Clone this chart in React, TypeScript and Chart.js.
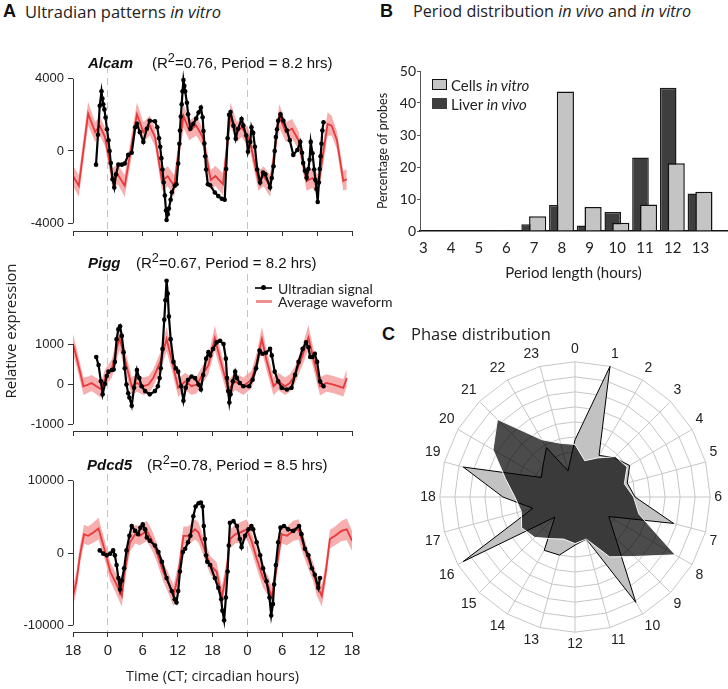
import React, { useEffect, useRef } from 'react';
import { Chart, registerables } from 'chart.js';
Chart.register(...registerables);

const ARIAL = '"Liberation Sans", Arial, sans-serif';
const SANS = 'Lato, "Open Sans", sans-serif';
const SEGOE = '"Open Sans", Lato, sans-serif';

// ---------- Panel A: ultradian patterns (x = hours after CT18) ----------
const timeTickValues = [0, 6, 12, 18, 24, 30, 36, 42, 48];
const timeTickLabels = ['18', '0', '6', '12', '18', '0', '6', '12', '18'];

// [hour, mean, band half-width]
const alcamAverage = [
  [0, -1390, 550], [1.0, -1930, 600], [2.6, 2070, 650], [3.8, 1045, 550], [4.6, 1400, 550], [5.5, 770, 500],
  [6.8, -1500, 550], [7.7, -1300, 550], [8.9, -1930, 600], [11.0, 2035, 650], [12.1, 1045, 550], [13.2, 1405, 550],
  [14.1, 775, 500], [15.3, -1660, 550], [16.3, -1400, 550], [17.4, -1930, 600], [19.0, 1945, 650], [20.0, 1135, 550],
  [21.2, 1405, 550], [22.3, 775, 500], [23.7, -1600, 550], [24.5, -1390, 550], [25.8, -1840, 600], [27.1, 2035, 650],
  [28.2, 1045, 550], [29.0, 1315, 550], [30.4, 595, 500], [31.9, -1660, 550], [32.8, -1400, 550], [33.9, -1930, 600],
  [35.5, 1945, 650], [36.6, 1045, 550], [37.7, 1225, 550], [38.8, 595, 500], [40.2, -1660, 550], [41.2, -1500, 550],
  [42.2, -1930, 600], [43.8, 1495, 650], [44.5, 1405, 550], [45.4, 595, 500], [46.5, -1660, 550], [47.1, -1570, 550],
];
const alcamSignal = [
  [3.96, -760], [4.3, 900], [4.6, 2500], [4.9, 3300], [5.05, 2900], [5.2, 2580], [5.4, 2300], [5.6, 1850], [5.85, 1200],
  [6.1, 590], [6.3, 0], [6.5, -670], [6.8, -1570], [7.1, -2020], [7.4, -1300], [7.8, -760], [8.4, -760], [8.9, -700],
  [9.5, -220], [10.1, -100], [10.7, 1315], [11.0, 1500], [11.5, 1040], [12.1, 500], [12.7, 1225], [13.2, 1675],
  [14.1, 1640], [14.5, 1315], [14.8, 700], [15.0, 230], [15.2, -400], [15.4, -1030], [15.6, -1750], [15.8, -2470],
  [16.0, -3300], [16.1, -3820], [16.3, -3500], [16.5, -3190], [16.8, -2700], [17.0, -2290], [17.5, -1930], [17.8, -1840],
  [18.1, -700], [18.3, 400], [18.4, 1135], [18.55, 1900], [18.7, 2580], [18.85, 3300], [19.0, 3930], [19.15, 3600],
  [19.3, 3300], [19.6, 2670], [19.8, 2035], [20.2, 1225], [20.7, 1500], [21.2, 1800], [21.6, 2130], [22.0, 2400],
  [22.3, 1860], [22.45, 1100], [22.6, 410], [22.75, -300], [22.9, -1030], [23.2, -1840], [23.6, -1900], [24.4, -2300],
  [25.0, -2500], [25.6, -2650], [26.1, -2700], [26.35, -1000], [26.6, 700], [26.85, 2000], [27.1, 2150], [27.6, 1400],
  [28.0, 680], [28.4, 1225], [29.0, 1765], [29.3, 1400], [29.8, 860], [30.1, -40], [30.5, 500], [30.7, 1315],
  [31.0, 1000], [31.3, 230], [31.7, -1030], [32.2, -1750], [32.7, -1200], [33.1, -1300], [33.9, -2020], [34.2, -1500],
  [34.5, -850], [34.7, 0], [34.9, 770], [35.1, 1200], [35.3, 1675], [35.7, 2035], [36.2, 1675], [36.8, 1135],
  [37.3, 590], [37.9, -220], [38.6, 50], [39.1, 500], [39.4, -100], [39.6, -670], [39.9, -1100], [40.2, -1480],
  [40.5, -1000], [40.7, -490], [40.9, 500], [41.2, -130], [41.5, -1030], [41.7, -1600], [41.9, -2110], [42.1, -2830],
  [42.3, -1750], [42.45, -1000], [42.6, -300], [42.75, 400], [42.9, 1135], [43.1, 1585],
];
const alcamTicks = [-4000, 0, 4000];

const piggAverage = [
  [0, 1005, 245], [0.6, 680, 230], [1.2, 314, 217], [1.8, -51, 217], [2.6, -10, 203], [3.2, 30, 203], [4.0, -51, 203],
  [4.9, -132, 217], [5.5, 152, 217], [6.7, 396, 230], [8.0, 1167, 311], [8.9, 639, 257], [10.1, -51, 230], [11.0, 30, 217],
  [12.1, -51, 217], [13.0, -10, 217], [13.8, 152, 217], [15.0, 558, 230], [16.1, 1127, 311], [17.0, 599, 257],
  [18.1, -92, 230], [19.3, 71, 217], [20.4, -51, 217], [21.3, -10, 217], [22.1, 193, 217], [23.3, 477, 230],
  [24.4, 1154, 311], [25.3, 639, 257], [26.7, -132, 230], [27.9, 71, 217], [29.3, -51, 217], [30.7, 111, 217],
  [31.6, 558, 230], [32.5, 1127, 311], [33.3, 599, 257], [34.5, -51, 230], [35.3, 71, 217], [36.5, -51, 217],
  [37.3, 30, 217], [38.2, 233, 217], [39.3, 639, 230], [40.5, 1167, 311], [41.3, 680, 257], [42.5, -51, 230],
  [43.6, 30, 217], [44.8, -10, 217], [46.5, -92, 217], [47.1, 152, 217],
];
const piggSignal = [
  [4.0, 680], [4.4, 477], [4.8, 71], [5.1, -254], [5.5, 3], [5.8, 206], [6.1, 314], [6.7, 355], [7.0, 369], [7.2, 558],
  [7.5, 1127], [7.8, 1370], [8.1, 1451], [8.4, 1208], [8.7, 802], [8.9, 396], [9.2, -10], [9.5, -227], [9.7, -335],
  [10.1, -538], [10.5, -92], [11.0, 355], [11.4, 152], [11.8, -51], [12.4, -173], [13.2, -254], [14.1, -173], [14.6, -51],
  [14.9, 152], [15.1, 396], [15.4, 883], [15.7, 1614], [15.9, 2101], [16.1, 2588], [16.3, 2264], [16.5, 1695], [16.8, 1127],
  [17.3, 558], [17.7, 396], [18.1, 314], [18.6, -51], [19.0, -416], [19.4, -92], [19.8, 111], [20.4, 193], [21.0, 152],
  [21.6, -10], [22.0, -132], [22.4, 233], [22.9, 639], [23.3, 802], [23.6, 720], [24.1, 883], [24.7, 1045], [25.3, 1086],
  [25.9, 1005], [26.3, 639], [26.5, 152], [26.7, -173], [26.9, -457], [27.1, -254], [27.5, 71], [27.9, 314], [28.2, 152],
  [28.7, 30], [29.3, -51], [30.3, -51], [30.9, 111], [31.5, 396], [32.1, 842], [32.6, 761], [33.2, 788], [33.9, 883],
  [34.2, 720], [34.7, 314], [35.3, 71], [35.9, -92], [36.8, -132], [37.6, -92], [38.2, 233], [38.8, 558], [39.5, 883],
  [40.1, 1045], [40.5, 924], [40.8, 680], [41.2, 680], [41.6, 761], [42.0, 558], [42.5, 71], [43.1, -51],
];
const piggTicks = [-1000, 0, 1000];

const pdcd5Average = [
  [0, -5950, 1400], [0.6, -3920, 1400], [1.2, -300, 1300], [1.9, 2600, 1300], [2.6, 2380, 1300], [3.5, 2830, 1400],
  [4.4, 3380, 1500], [4.9, 1930, 1400], [5.7, -300, 1300], [6.4, -2570, 1300], [7.5, -4370, 1400], [8.4, -5950, 1500],
  [8.9, -2570, 1400], [9.8, 1480, 1300], [10.7, 2600, 1300], [11.5, 2380, 1300], [12.7, 3060, 1400], [13.5, 1930, 1400],
  [14.4, 130, 1300], [15.5, -2570, 1300], [16.4, -4150, 1400], [17.3, -5950, 1500], [18.1, -3020, 1400], [19.0, 2380, 1300],
  [19.8, 2380, 1300], [21.0, 3280, 1400], [21.6, 2830, 1400], [22.4, 1030, 1300], [23.6, -1670, 1300], [24.7, -2570, 1300],
  [25.6, -6180, 1500], [26.4, -2570, 1400], [27.0, 1930, 1300], [27.9, 2600, 1300], [28.7, 2830, 1400], [29.9, 3280, 1400],
  [30.7, 1700, 1400], [31.6, -770, 1300], [32.7, -3470, 1300], [33.6, -4600, 1400], [34.2, -6180, 1500], [35.0, -2120, 1400],
  [35.9, 2600, 1300], [36.8, 2380, 1300], [37.9, 3060, 1400], [38.8, 3280, 1400], [39.3, 1930, 1400], [40.2, -300, 1300],
  [41.3, -2570, 1300], [41.9, -4370, 1400], [42.8, -5950, 1500], [43.5, -2570, 1400], [44.2, 1930, 1300], [45.1, 2380, 1300],
  [46.2, 3060, 1400], [47.1, 3280, 1500], [48.0, 1700, 1400],
];
const pdcd5Signal = [
  [4.6, 360], [5.2, -90], [5.8, -320], [6.4, -90], [6.9, 360], [7.2, -320], [7.5, -1670], [7.8, -3470], [8.1, -5050],
  [8.4, -3800], [8.8, -2120], [9.2, 360], [9.7, 2380], [10.1, 3740], [10.7, 3060], [11.2, 2610], [11.6, 3510], [12.0, 3960],
  [12.4, 3280], [12.7, 2160], [13.2, 1710], [14.1, 1030], [14.7, 130], [15.3, -1220], [16.1, -3470], [17.0, -5280],
  [17.5, -6400], [17.8, -6850], [18.1, -5280], [18.4, -2570], [18.9, 130], [19.3, 590], [19.8, 1480], [20.2, 2380],
  [20.7, 5090], [21.1, 6440], [21.6, 6890], [22.0, 6980], [22.3, 6440], [22.5, 3740], [22.7, 1930], [22.9, -320],
  [23.1, -1220], [23.6, -1670], [24.4, -3470], [25.0, -4830], [25.5, -6400], [25.7, -7980], [26.0, -9330], [26.3, -6180],
  [26.6, -2570], [26.8, 1030], [27.0, 4190], [27.6, 4410], [28.2, 3740], [28.7, 1930], [29.0, 810], [29.6, 2380],
  [30.2, 3280], [30.7, 3740], [31.0, 3280], [31.6, 1480], [32.2, -320], [32.7, -2120], [33.3, -3920], [33.8, -6180],
  [34.1, -8650], [34.4, -7080], [34.6, -4370], [34.9, -1670], [35.3, 1480], [35.7, 3510], [36.3, 3740], [37.0, 3280],
  [37.9, 3060], [38.9, 3740], [39.3, 2610], [39.9, 590], [40.5, -320], [41.1, -2120], [41.6, -3020], [42.2, -4830],
  [42.5, -3470],
];
const pdcd5Ticks = [-10000, 0, 10000];

// ---------- Panel B: period distribution ----------
const periodLabels = [3, 4, 5, 6, 7, 8, 9, 10, 11, 12, 13];
const cellsInVitro = [0.1, 0.1, 0.1, 0.1, 4.6, 43.6, 7.5, 2.6, 8.3, 21.2, 12.3];
const liverInVivo = [0.1, 0.1, 0.1, 0.3, 2.1, 8.1, 1.7, 5.9, 23.0, 44.8, 11.7];
const percentTicks = [0, 10, 20, 30, 40, 50];

// ---------- Panel C: phase distribution ----------
const phaseLabels = ['0', '1', '2', '3', '4', '5', '6', '7', '8', '9', '10', '11', '12', '13', '14', '15', '16', '17', '18', '19', '20', '21', '22', '23'];
const phaseInVitro = [3.8, 9.0, 3.2, 3.7, 4.2, 3.6, 4.0, 6.8, 2.6, 3.8, 8.1, 2.9, 3.2, 4.0, 4.1, 1.9, 8.6, 2.9, 4.8, 7.7, 2.6, 3.0, 3.8, 1.8];
const phaseInVivo = [3.5, 2.5, 3.0, 3.8, 4.0, 3.4, 3.9, 4.4, 7.7, 5.6, 4.6, 2.9, 3.1, 2.9, 3.2, 3.8, 4.1, 3.7, 4.0, 4.8, 6.3, 7.3, 4.4, 3.7];

// ---------- helpers ----------
const rAxisPlugin = {
  id: 'rAxis',
  afterDraw(chart: any) {
    const y = chart.scales.y;
    const t = y.ticks;
    const ctx = chart.ctx;
    const x = Math.round(chart.chartArea.left) + 0.5;
    ctx.save();
    ctx.strokeStyle = '#333';
    ctx.lineWidth = 1;
    ctx.beginPath();
    ctx.moveTo(x, y.getPixelForValue(t[0].value));
    ctx.lineTo(x, y.getPixelForValue(t[t.length - 1].value));
    ctx.stroke();
    ctx.restore();
  },
};

function timeConfig(p: any) {
  const ticks: number[] = p.ticks;
  const upp = (ticks[ticks.length - 1] - ticks[0]) / (p.lowPx - p.highPx);
  const yMax = ticks[ticks.length - 1] + (p.highPx - p.top) * upp;
  const yMin = ticks[0] - (p.bottom - p.lowPx) * upp;
  const avg: number[][] = p.avg;
  return {
    type: 'line',
    data: {
      datasets: [
        { label: 'Ultradian signal', data: p.signal.map((d: number[]) => ({ x: d[0], y: d[1] })), borderColor: '#000', backgroundColor: '#000', borderWidth: 2.2, pointRadius: 2.3, pointBorderWidth: 0, tension: 0 },
        { label: 'Average waveform', data: avg.map((d) => ({ x: d[0], y: d[1] })), borderColor: '#e8393c', borderWidth: 1.8, pointRadius: 0, tension: 0 },
        { label: 'upper', data: avg.map((d) => ({ x: d[0], y: d[1] + d[2] })), borderWidth: 0, pointRadius: 0, fill: '+1', backgroundColor: 'rgba(243,135,135,0.68)', tension: 0 },
        { label: 'lower', data: avg.map((d) => ({ x: d[0], y: d[1] - d[2] })), borderWidth: 0, pointRadius: 0, fill: false, tension: 0 },
      ],
    },
    options: {
      responsive: false, animation: false, events: [],
      layout: { padding: { top: 0, right: 8, bottom: 0, left: 0 } },
      plugins: { legend: { display: false }, tooltip: { enabled: false } },
      scales: {
        x: {
          type: 'linear', min: 0, max: 48, bounds: 'data',
          afterBuildTicks: (s: any) => { s.ticks = timeTickValues.map((v) => ({ value: v })); },
          afterFit: (s: any) => { s.height = p.xHeight; s.paddingLeft = 0; s.paddingRight = 0; },
          grid: {
            color: (c: any) => (c.tick && (c.tick.value === 6 || c.tick.value === 30) ? '#c4c4c4' : 'rgba(0,0,0,0)'),
            lineWidth: 1, drawTicks: true, tickLength: 5, tickColor: '#333', tickWidth: 1,
          },
          border: { display: true, color: '#333', width: 1, dash: [7, 5] },
          ticks: {
            display: p.showLabels, autoSkip: false, maxRotation: 0, padding: 5, color: '#222',
            font: { family: ARIAL, size: 15 },
            callback: (_v: any, i: number) => timeTickLabels[i],
          },
          title: { display: p.showLabels, text: 'Time (CT; circadian hours)', color: '#222', font: { family: SEGOE, size: 14.4 }, padding: { top: 0, bottom: 3 } },
        },
        y: {
          min: yMin, max: yMax, bounds: 'data',
          afterBuildTicks: (s: any) => { s.ticks = ticks.map((v) => ({ value: v })); },
          afterFit: (s: any) => { s.width = 73; s.paddingTop = 0; s.paddingBottom = 0; },
          grid: { drawOnChartArea: false, drawTicks: true, tickLength: 5, color: 'rgba(0,0,0,0)', tickColor: '#333' },
          border: { display: false },
          ticks: { padding: 4, color: '#222', font: { family: ARIAL, size: 13 }, callback: (v: any) => String(v) },
        },
      },
    },
    plugins: [rAxisPlugin],
  };
}

const B_MIN = 2.88, B_MAX = 13.96, B_PX = 27.67;
function barConfig() {
  const shiftCells = 3.5 / B_PX;
  const shiftLiver = -4.5 / B_PX;
  const hidden = (shift: number) => ({
    type: 'linear', display: false, offset: false, min: B_MIN - shift, max: B_MAX - shift, bounds: 'data',
    afterBuildTicks: (s: any) => { s.ticks = periodLabels.map((v) => ({ value: v })); },
  });
  return {
    type: 'bar',
    data: {
      datasets: [
        { label: 'Cells in vitro', data: periodLabels.map((v, i) => ({ x: v, y: cellsInVitro[i] })), xAxisID: 'xCells', backgroundColor: '#c4c4c4', borderColor: '#111', borderWidth: 1.5, grouped: false, categoryPercentage: 1, barPercentage: 0.62 },
        { label: 'Liver in vivo', data: periodLabels.map((v, i) => ({ x: v, y: liverInVivo[i] })), xAxisID: 'xLiver', backgroundColor: '#3e3e3e', borderColor: '#1c1c1c', borderWidth: 1.5, grouped: false, categoryPercentage: 1, barPercentage: 0.6 },
      ],
    },
    options: {
      responsive: false, animation: false, events: [],
      layout: { padding: { top: 11, right: 1, bottom: 0, left: 0 } },
      plugins: { legend: { display: false }, tooltip: { enabled: false } },
      scales: {
        xCells: hidden(shiftCells),
        xLiver: hidden(shiftLiver),
        x: {
          type: 'linear', position: 'bottom', offset: false, min: B_MIN, max: B_MAX, bounds: 'data',
          afterBuildTicks: (s: any) => { s.ticks = periodLabels.map((v) => ({ value: v })); },
          afterFit: (s: any) => { s.height = 59; s.paddingLeft = 0; s.paddingRight = 0; },
          grid: { display: false, drawTicks: false, offset: false },
          border: { display: true, color: '#111', width: 1.5 },
          ticks: { autoSkip: false, maxRotation: 0, padding: 8, color: '#222', font: { family: SANS, size: 15 }, callback: (v: any) => String(v) },
          title: { display: true, text: 'Period length (hours)', color: '#222', font: { family: SANS, size: 15 }, padding: { top: 0, bottom: 8 } },
        },
        y: {
          min: 0, max: 50,
          afterBuildTicks: (s: any) => { s.ticks = percentTicks.map((v) => ({ value: v })); },
          afterFit: (s: any) => { s.width = 50; s.paddingTop = 0; s.paddingBottom = 0; },
          grid: { drawOnChartArea: false, drawTicks: true, tickLength: 3, color: 'rgba(0,0,0,0)', tickColor: '#555' },
          border: { display: true, color: '#555', width: 1 },
          ticks: { padding: 1, color: '#222', font: { family: SANS, size: 14 } },
          title: { display: true, text: 'Percentage of probes', color: '#222', font: { family: SANS, size: 12.5 }, padding: { top: 5, bottom: 0 } },
        },
      },
    },
  };
}

function radarConfig() {
  return {
    type: 'radar',
    data: {
      labels: phaseLabels,
      datasets: [
        { label: 'Liver in vivo', data: phaseInVivo, backgroundColor: 'rgba(0,0,0,0.7)', borderColor: 'rgba(255,255,255,0.9)', borderWidth: 1, pointRadius: 0, fill: true, tension: 0 },
        { label: 'Cells in vitro', data: phaseInVitro, backgroundColor: '#c2c2c2', borderColor: '#000', borderWidth: 1, pointRadius: 0, fill: true, tension: 0 },
      ],
    },
    options: {
      responsive: false, animation: false, events: [],
      layout: { padding: 0 },
      plugins: { legend: { display: false }, tooltip: { enabled: false } },
      scales: {
        r: {
          min: 0, max: 9,
          ticks: { display: false, stepSize: 1 },
          grid: { color: '#c6c6c6', lineWidth: 1, circular: false },
          angleLines: { color: '#c6c6c6', lineWidth: 1 },
          pointLabels: { font: { family: ARIAL, size: 14 }, color: '#222', padding: 4 },
        },
      },
    },
  };
}

function ChartBox({ left, top, width, height, make }: any) {
  const ref = useRef<HTMLCanvasElement>(null);
  useEffect(() => {
    const chart = new Chart(ref.current as HTMLCanvasElement, make());
    return () => chart.destroy();
  }, []);
  return <canvas ref={ref} width={width} height={height} style={{ position: 'absolute', left, top, width, height }} />;
}

function Txt({ x, y, children, style }: any) {
  return (
    <div style={{ position: 'absolute', left: x, top: y, transform: 'translateY(-50%)', whiteSpace: 'nowrap', lineHeight: 1.2, color: '#222', ...style }}>
      {children}
    </div>
  );
}

const sup = { position: 'relative' as const, top: '-0.45em', fontSize: '0.85em' };

function GeneTitle({ y, name, nameX, statsX, r2, period }: any) {
  return (
    <>
      <Txt x={nameX} y={y} style={{ font: `italic bold 15px ${ARIAL}`, color: '#111' }}>{name}</Txt>
      <Txt x={statsX} y={y} style={{ font: `15px ${ARIAL}`, color: '#111' }}>
        (R<span style={sup}>2</span>={r2}, Period = {period} hrs)
      </Txt>
    </>
  );
}

export default function App() {
  return (
    <div style={{ position: 'fixed', left: 0, top: 0, width: 728, height: 689, background: '#fff', overflow: 'hidden' }}>
      <ChartBox left={0} top={62} width={360} height={183}
        make={() => timeConfig({ avg: alcamAverage, signal: alcamSignal, ticks: alcamTicks, lowPx: 223 - 62, highPx: 75 - 62, top: 0, bottom: 231 - 62, xHeight: 14, showLabels: false })} />
      <ChartBox left={0} top={270} width={360} height={175}
        make={() => timeConfig({ avg: piggAverage, signal: piggSignal, ticks: piggTicks, lowPx: 424 - 270, highPx: 342 - 270, top: 0, bottom: 431 - 270, xHeight: 14, showLabels: false })} />
      <ChartBox left={0} top={470} width={360} height={219}
        make={() => timeConfig({ avg: pdcd5Average, signal: pdcd5Signal, ticks: pdcd5Ticks, lowPx: 625 - 470, highPx: 477 - 470, top: 0, bottom: 632 - 470, xHeight: 57, showLabels: true })} />
      <ChartBox left={370} top={60} width={358} height={230} make={barConfig} />
      <ChartBox left={416} top={342} width={312} height={312} make={radarConfig} />

      {/* Panel A text */}
      <Txt x={3} y={11} style={{ font: `bold 18px ${ARIAL}`, color: '#111' }}>A</Txt>
      <Txt x={25} y={11} style={{ font: `16.5px ${SEGOE}` }}>Ultradian patterns <i>in vitro</i></Txt>
      <GeneTitle y={62} name="Alcam" nameX={88} statsX={152} r2="0.76" period="8.2" />
      <GeneTitle y={262} name="Pigg" nameX={88} statsX={136} r2="0.67" period="8.2" />
      <GeneTitle y={464} name="Pdcd5" nameX={87} statsX={147} r2="0.78" period="8.5" />
      <div style={{ position: 'absolute', left: 9 - 100, top: 331 - 9, width: 200, height: 18, lineHeight: '18px', textAlign: 'center', transform: 'rotate(-90deg)', font: `15px ${SEGOE}`, color: '#222', whiteSpace: 'nowrap' }}>
        Relative expression
      </div>
      {/* Panel A legend */}
      <div style={{ position: 'absolute', left: 255, top: 287, width: 17, height: 1.5, background: '#333' }} />
      <div style={{ position: 'absolute', left: 261, top: 285, width: 5, height: 5, borderRadius: 3, background: '#000' }} />
      <Txt x={278} y={287.5} style={{ font: `14px ${SANS}` }}>Ultradian signal</Txt>
      <div style={{ position: 'absolute', left: 256, top: 300, width: 16, height: 3, background: 'rgba(240,130,130,0.9)' }} />
      <Txt x={278} y={301} style={{ font: `14px ${SANS}` }}>Average waveform</Txt>

      {/* Panel B text */}
      <Txt x={380} y={11} style={{ font: `bold 18px ${ARIAL}`, color: '#111' }}>B</Txt>
      <Txt x={413} y={11} style={{ font: `16.2px ${SEGOE}` }}>Period distribution <i>in vivo</i> and <i>in vitro</i></Txt>
      <div style={{ position: 'absolute', left: 432, top: 79, width: 13, height: 9, background: '#c4c4c4', border: '1.5px solid #111' }} />
      <Txt x={451} y={84.5} style={{ font: `15px ${SANS}` }}>Cells <i>in vitro</i></Txt>
      <div style={{ position: 'absolute', left: 432, top: 98, width: 15, height: 11, background: '#3e3e3e' }} />
      <Txt x={451} y={103.5} style={{ font: `15px ${SANS}` }}>Liver <i>in vivo</i></Txt>

      {/* Panel C text */}
      <Txt x={382} y={334} style={{ font: `bold 18px ${ARIAL}`, color: '#111' }}>C</Txt>
      <Txt x={411} y={333} style={{ font: `16.5px ${SEGOE}` }}>Phase distribution</Txt>
    </div>
  );
}
